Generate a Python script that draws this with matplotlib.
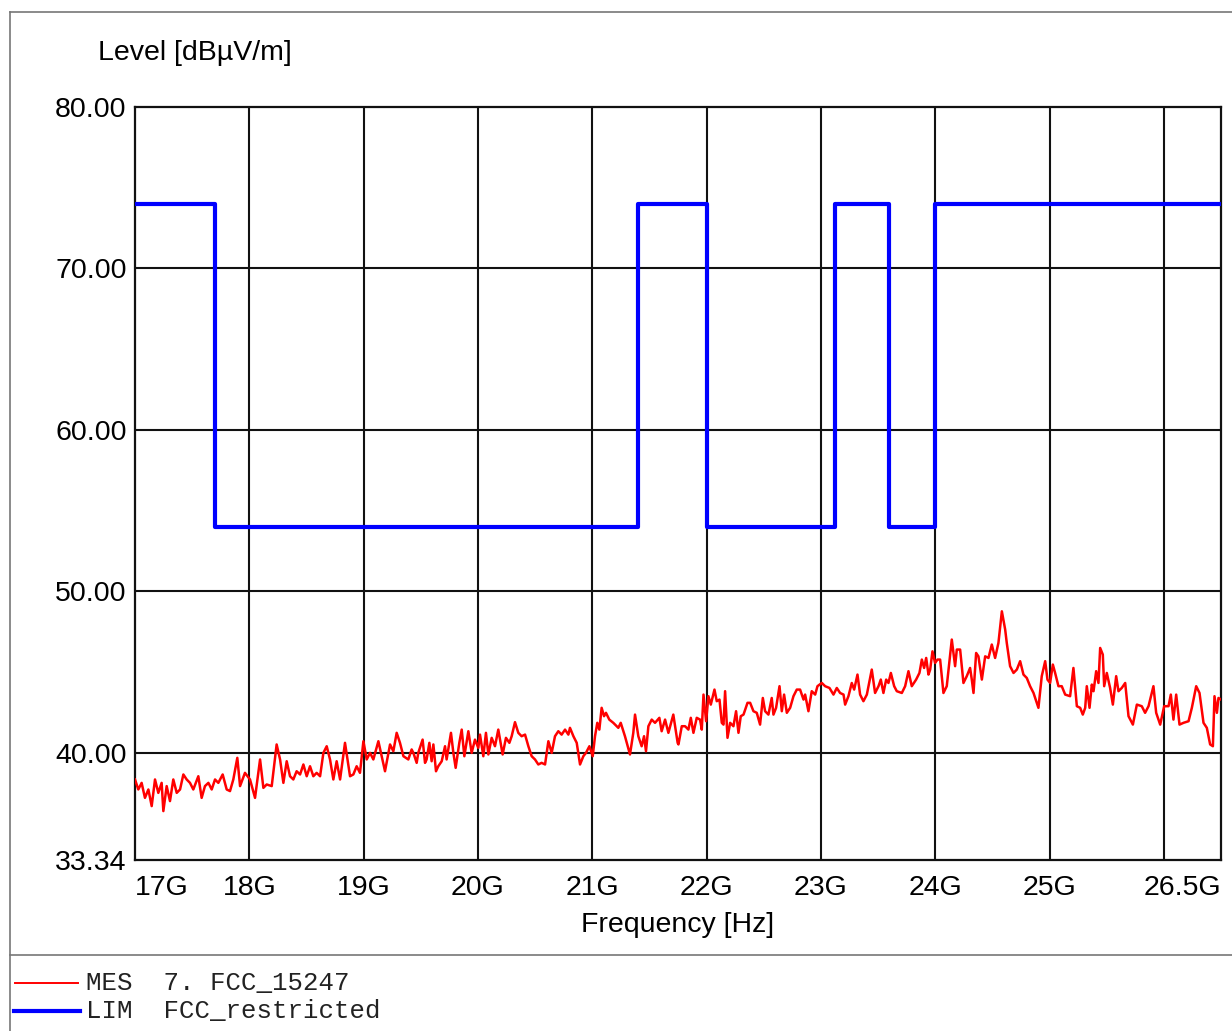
import matplotlib
matplotlib.use("Agg")
import matplotlib.pyplot as plt
from matplotlib.lines import Line2D

# limit line FCC_restricted (band edges in GHz, level in dBuV/m)
lim_edges = [17.0, 17.7, 21.4, 22.0, 23.12, 23.6, 24.0, 26.5]
lim_levels = [74, 54, 74, 54, 74, 54, 74]

mes_freq = [
    17.000, 17.029, 17.058, 17.087, 17.117, 17.146, 17.175, 17.204, 17.233, 17.248,
    17.277, 17.306, 17.335, 17.365, 17.394, 17.423, 17.452, 17.481, 17.510, 17.554,
    17.583, 17.612, 17.642, 17.671, 17.700, 17.729, 17.767, 17.802, 17.831, 17.860,
    17.895, 17.919, 17.962, 18.006, 18.050, 18.094, 18.123, 18.152, 18.196, 18.239,
    18.269, 18.298, 18.327, 18.356, 18.385, 18.414, 18.444, 18.473, 18.502, 18.531,
    18.560, 18.589, 18.619, 18.648, 18.677, 18.706, 18.735, 18.764, 18.794, 18.837,
    18.881, 18.910, 18.939, 18.968, 18.998, 19.027, 19.056, 19.085, 19.129, 19.158,
    19.187, 19.231, 19.260, 19.289, 19.318, 19.348, 19.391,
    19.420, 19.435, 19.464, 19.478, 19.516, 19.537, 19.551, 19.575, 19.595, 19.610,
    19.633, 19.653, 19.683, 19.712, 19.726, 19.764, 19.785, 19.805, 19.837, 19.858,
    19.881, 19.916, 19.945, 19.974, 20.003, 20.018, 20.047, 20.070, 20.091, 20.120,
    20.149, 20.178, 20.216, 20.245, 20.275, 20.295, 20.324, 20.353, 20.382, 20.412,
    20.441, 20.470, 20.499, 20.528, 20.557, 20.587, 20.616, 20.645, 20.674, 20.703,
    20.732, 20.762, 20.791, 20.805, 20.835, 20.864, 20.893, 20.922, 20.945, 20.975,
    21.004, 21.024, 21.044, 21.062, 21.082, 21.103, 21.120, 21.149, 21.184, 21.228,
    21.249, 21.286, 21.330, 21.359, 21.374, 21.403, 21.432, 21.453, 21.470, 21.491,
    21.520, 21.549, 21.587, 21.607, 21.637, 21.666, 21.709, 21.747,
    21.754, 21.783, 21.812, 21.841, 21.862, 21.885, 21.914, 21.943, 21.958, 21.973,
    21.996, 22.016, 22.037, 22.069, 22.089, 22.113, 22.133, 22.148, 22.162, 22.183,
    22.206, 22.235, 22.258, 22.279, 22.299, 22.323, 22.358, 22.381, 22.410, 22.439,
    22.468, 22.492, 22.512, 22.541, 22.570, 22.585, 22.608, 22.638, 22.658, 22.678,
    22.702, 22.731, 22.760, 22.789, 22.818, 22.848, 22.862, 22.891, 22.920, 22.950,
    22.970, 23.008, 23.037, 23.075, 23.110, 23.139, 23.168, 23.198, 23.212, 23.241,
    23.270, 23.291, 23.320, 23.343, 23.372, 23.402, 23.445, 23.474, 23.504, 23.524,
    23.547, 23.571, 23.591, 23.612, 23.641, 23.664, 23.708, 23.737, 23.766, 23.795,
    23.833, 23.862, 23.883, 23.903, 23.921, 23.941, 23.956, 23.976, 23.999, 24.020,
    24.043, 24.072, 24.101, 24.145, 24.174, 24.189, 24.218, 24.247, 24.276, 24.305,
    24.320, 24.335, 24.358, 24.378, 24.408, 24.437, 24.466, 24.495, 24.524, 24.553,
    24.583, 24.612, 24.626, 24.655, 24.685, 24.714, 24.743, 24.772, 24.801, 24.830,
    24.860, 24.903, 24.932, 24.962, 24.982, 25.005, 25.029, 25.049, 25.078, 25.107,
    25.137, 25.180, 25.209, 25.239, 25.268, 25.291, 25.312, 25.326, 25.350, 25.370,
    25.385, 25.408, 25.428, 25.443, 25.466, 25.478, 25.501, 25.530, 25.554, 25.583,
    25.603, 25.632, 25.662, 25.691, 25.729, 25.764, 25.807, 25.836, 25.866, 25.909,
    25.933, 25.968, 26.003, 26.041, 26.061, 26.084, 26.108, 26.137, 26.172, 26.216,
    26.245, 26.283, 26.312, 26.347, 26.376, 26.405, 26.429, 26.443, 26.464, 26.478,
    26.500,
]
mes_level = [
    38.33, 37.71, 38.12, 37.19, 37.71, 36.68, 38.33, 37.50, 38.12, 36.37,
    37.92, 36.99, 38.33, 37.50, 37.71, 38.64, 38.33, 38.12, 37.71, 38.53,
    37.19, 37.92, 38.12, 37.71, 38.33, 38.12, 38.64, 37.71, 37.61, 38.33,
    39.67, 37.92, 38.74, 38.33, 37.19, 39.57, 37.81, 38.02, 37.92, 40.50,
    39.57, 38.12, 39.46, 38.53, 38.33, 38.84, 38.64, 39.26, 38.53, 39.15,
    38.53, 38.74, 38.53, 39.98, 40.39, 39.57, 38.33, 39.46, 38.33, 40.60,
    38.53, 38.64, 39.15, 38.74, 40.70, 39.57, 39.98, 39.57, 40.70, 39.77,
    38.84, 40.50, 40.08, 41.22, 40.60, 39.77, 39.57,
    40.19, 39.98, 39.36, 39.98, 40.80, 39.36, 39.57, 40.60, 39.46, 40.50,
    38.84, 39.15, 39.46, 40.39, 39.57, 41.22, 39.98, 39.05, 40.60, 41.42,
    39.77, 41.32, 39.98, 40.80, 40.29, 41.11, 39.77, 41.22, 39.88, 40.91,
    40.39, 41.42, 39.88, 40.91, 40.60, 41.01, 41.88, 41.22, 41.01, 41.11,
    40.39, 39.77, 39.57, 39.26, 39.36, 39.26, 40.70, 39.98, 41.01, 41.32,
    41.11, 41.42, 41.11, 41.53, 41.01, 40.60, 39.26, 39.77, 39.98, 40.39,
    39.77, 41.01, 41.84, 41.42, 42.77, 42.25, 42.46, 42.04, 41.84, 41.53,
    41.84, 41.01, 39.88, 41.22, 42.35, 41.01, 40.39, 41.01, 40.08, 41.63,
    42.04, 41.84, 42.15, 41.32, 42.04, 41.22, 42.35, 40.60,
    40.50, 41.63, 41.63, 41.42, 42.15, 41.22, 42.15, 42.04, 41.42, 43.59,
    41.94, 43.49, 42.97, 43.90, 43.18, 43.28, 41.84, 41.73, 43.80, 40.91,
    41.84, 41.63, 42.56, 41.22, 42.25, 42.35, 43.08, 43.08, 42.56, 42.46,
    41.73, 43.38, 42.56, 42.35, 43.38, 42.35, 42.77, 44.11, 42.56, 43.59,
    42.46, 42.77, 43.49, 43.90, 43.90, 43.28, 43.59, 42.56, 43.80, 43.59,
    44.11, 44.31, 44.11, 44.00, 43.59, 44.00, 43.69, 43.59, 42.97, 43.49,
    44.31, 43.90, 44.83, 43.59, 43.18, 43.59, 45.14, 43.69, 44.11, 44.52,
    43.69, 44.52, 44.31, 44.93, 44.11, 43.80, 43.69, 44.11, 45.04, 44.11,
    44.52, 44.93, 45.76, 45.24, 45.86, 44.83, 45.14, 46.27, 45.55, 45.76,
    45.76, 43.69, 44.11, 47.00, 45.35, 46.38, 46.38, 44.31, 44.73, 45.24,
    44.52, 43.69, 46.17, 45.96, 44.52, 45.96, 45.86, 46.69, 45.86, 46.79,
    48.75, 47.62, 46.79, 45.35, 44.93, 45.14, 45.66, 44.83, 44.62, 44.11,
    43.69, 42.77, 44.73, 45.66, 44.52, 44.31, 45.45, 44.93, 44.11, 44.11,
    43.59, 43.49, 45.24, 42.87, 42.77, 42.35, 42.77, 44.11, 42.77, 44.21,
    43.80, 45.04, 44.31, 46.48, 46.07, 44.11, 44.93, 44.00, 42.97, 44.73,
    43.80, 44.00, 44.31, 42.25, 41.73, 42.97, 42.87, 42.46, 42.87, 44.11,
    42.46, 41.73, 42.87, 42.87, 43.59, 42.04, 43.59, 41.73, 41.84, 41.94,
    42.77, 44.11, 43.69, 41.84, 41.53, 40.50, 40.39, 43.49, 42.46, 43.38,
    43.28,
]

y_ticks = [33.34, 40, 50, 60, 70, 80]
y_labels = ["33.34", "40.00", "50.00", "60.00", "70.00", "80.00"]
x_ticks = [17, 18, 19, 20, 21, 22, 23, 24, 25, 26.5]
x_labels = ["17G", "18G", "19G", "20G", "21G", "22G", "23G", "24G", "25G", "26.5G"]
x_grid = [18, 19, 20, 21, 22, 23, 24, 25, 26]
y_grid = [40, 50, 60, 70]

plt.rcParams["font.family"] = ["Liberation Sans", "DejaVu Sans"]

fig = plt.figure(figsize=(12.32, 10.31), dpi=100)
ax = fig.add_axes([135 / 1232, 1 - 860 / 1031, (1221 - 135) / 1232, (860 - 107) / 1031])

for g in x_grid:
    ax.axvline(g, color="#111111", lw=1.5, zorder=1)
for g in y_grid:
    ax.axhline(g, color="#111111", lw=1.5, zorder=1)

ax.plot(lim_edges, lim_levels + [lim_levels[-1]], drawstyle="steps-post",
        color="#0000ff", lw=3, zorder=3)
ax.plot(mes_freq, mes_level, color="#ff0000", lw=1.8, zorder=4)

ax.set_xlim(17, 26.5)
ax.set_ylim(33.34, 80)
ax.set_xticks(x_ticks)
ax.set_xticklabels(x_labels)
ax.set_yticks(y_ticks)
ax.set_yticklabels(y_labels)
ax.tick_params(axis="both", length=0, labelsize=20.5)
ax.tick_params(axis="x", pad=11)
ax.tick_params(axis="y", pad=6)
xl = ax.get_xticklabels()
xl[0].set_ha("left")
xl[-1].set_ha("right")
for s in ax.spines.values():
    s.set_linewidth(1.6)
    s.set_color("#111111")

ax.set_xlabel("Frequency [Hz]", fontsize=20.5, labelpad=8)
fig.text(98 / 1232, 1 - 53 / 1031, "Level [dB\u00b5V/m]", fontsize=20.5, ha="left", va="center")

# outer frame and legend separator
frame_col = "#777777"
fig.add_artist(Line2D([10 / 1232, 1], [1 - 12 / 1031] * 2, color=frame_col, lw=1.2))
fig.add_artist(Line2D([10 / 1232] * 2, [0, 1 - 12 / 1031], color=frame_col, lw=1.2))
fig.add_artist(Line2D([10 / 1232, 1], [1 - 955 / 1031] * 2, color=frame_col, lw=1.2))

# legend
fig.add_artist(Line2D([15 / 1232, 78 / 1232], [1 - 983 / 1031] * 2, color="#ff0000", lw=1.4))
fig.add_artist(Line2D([14 / 1232, 80 / 1232], [1 - 1011 / 1031] * 2, color="#0000ff", lw=3))
fig.text(86 / 1232, 1 - 983 / 1031, "MES  7. FCC_15247", fontsize=18.5,
         family="Liberation Mono", ha="left", va="center", color="#222222")
fig.text(86 / 1232, 1 - 1011 / 1031, "LIM  FCC_restricted", fontsize=18.5,
         family="Liberation Mono", ha="left", va="center", color="#222222")

fig.savefig("out.png", dpi=100)
